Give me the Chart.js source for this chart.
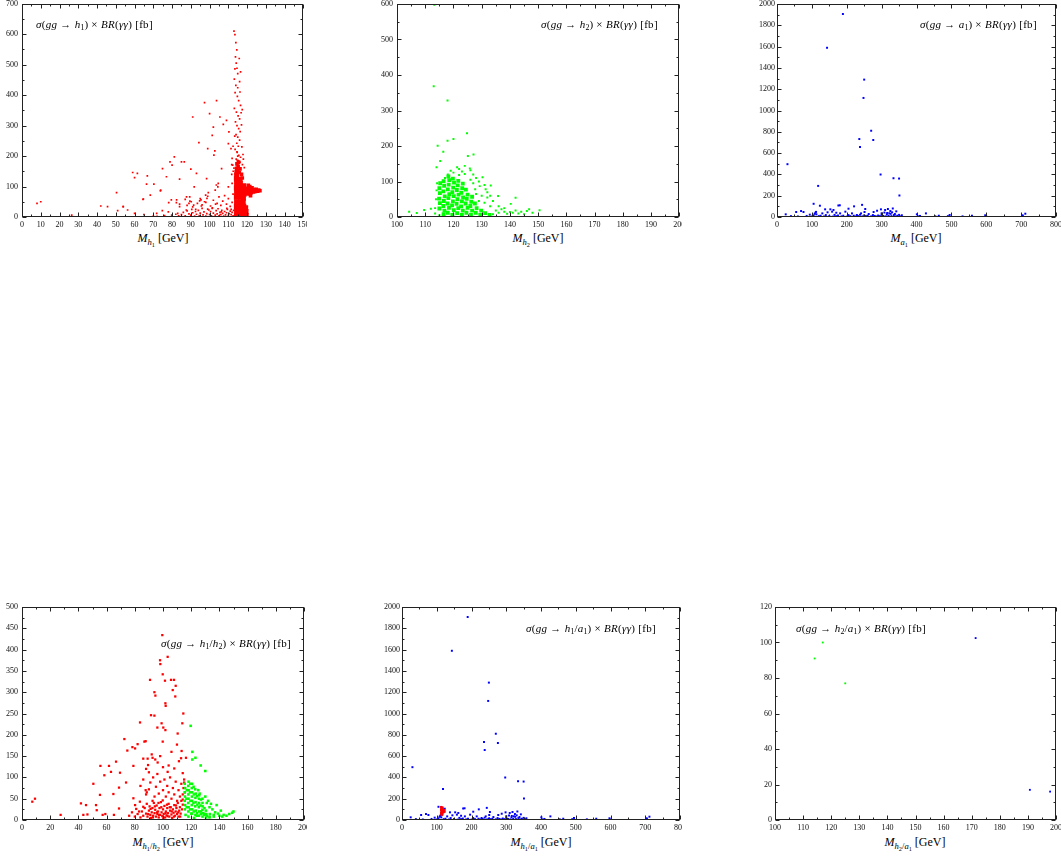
<!DOCTYPE html>
<html>
<head>
<meta charset="utf-8">
<title>gg -> h BR(gamma gamma) scans</title>
<script src="https://cdn.jsdelivr.net/npm/chart.js@4.4.1/dist/chart.umd.min.js"></script>
<style>
body { margin: 0; background: #fff; }
#page { position: relative; width: 1061px; height: 857px; overflow: hidden; font-family: "Liberation Serif", "DejaVu Serif", serif; color: #000; }
canvas { position: absolute; }
.txt { position: absolute; white-space: nowrap; line-height: 1; }
.ann { font-size: 11px; letter-spacing: 0.3px; }
.op { margin: 0 3px; }
.xt { font-size: 12px; transform: translateX(-50%); }
sub { font-size: 72%; vertical-align: -0.3em; line-height: 0; letter-spacing: 0; }
</style>
</head>
<body>
<div id="page">
  <canvas id="c1" width="307" height="231" style="left:0px;top:0px"></canvas>
  <canvas id="c2" width="307" height="231" style="left:375px;top:0px"></canvas>
  <canvas id="c3" width="306" height="231" style="left:755px;top:0px"></canvas>
  <canvas id="c4" width="307" height="234" style="left:0px;top:600px"></canvas>
  <canvas id="c5" width="307" height="234" style="left:375px;top:600px"></canvas>
  <canvas id="c6" width="306" height="234" style="left:755px;top:600px"></canvas>

  <div class="txt ann" style="left:36px;top:19px"><i>σ</i>(<i>gg</i><span class="op">→</span><i>h</i><sub>1</sub>)<span class="op">×</span><i>BR</i>(<i>γγ</i>) [fb]</div>
  <div class="txt ann" style="left:541px;top:19px"><i>σ</i>(<i>gg</i><span class="op">→</span><i>h</i><sub>2</sub>)<span class="op">×</span><i>BR</i>(<i>γγ</i>) [fb]</div>
  <div class="txt ann" style="left:920px;top:19px"><i>σ</i>(<i>gg</i><span class="op">→</span><i>a</i><sub>1</sub>)<span class="op">×</span><i>BR</i>(<i>γγ</i>) [fb]</div>
  <div class="txt ann" style="left:161px;top:638px"><i>σ</i>(<i>gg</i><span class="op">→</span><i>h</i><sub>1</sub>/<i>h</i><sub>2</sub>)<span class="op">×</span><i>BR</i>(<i>γγ</i>) [fb]</div>
  <div class="txt ann" style="left:526px;top:623px"><i>σ</i>(<i>gg</i><span class="op">→</span><i>h</i><sub>1</sub>/<i>a</i><sub>1</sub>)<span class="op">×</span><i>BR</i>(<i>γγ</i>) [fb]</div>
  <div class="txt ann" style="left:796px;top:623px"><i>σ</i>(<i>gg</i><span class="op">→</span><i>h</i><sub>2</sub>/<i>a</i><sub>1</sub>)<span class="op">×</span><i>BR</i>(<i>γγ</i>) [fb]</div>

  <div class="txt xt" style="left:163px;top:232px"><i>M</i><sub><i>h</i><sub>1</sub></sub> [GeV]</div>
  <div class="txt xt" style="left:538px;top:232px"><i>M</i><sub><i>h</i><sub>2</sub></sub> [GeV]</div>
  <div class="txt xt" style="left:916px;top:232px"><i>M</i><sub><i>a</i><sub>1</sub></sub> [GeV]</div>
  <div class="txt xt" style="left:163px;top:836px"><i>M</i><sub><i>h</i><sub>1</sub>/<i>h</i><sub>2</sub></sub> [GeV]</div>
  <div class="txt xt" style="left:541px;top:836px"><i>M</i><sub><i>h</i><sub>1</sub>/<i>a</i><sub>1</sub></sub> [GeV]</div>
  <div class="txt xt" style="left:915px;top:836px"><i>M</i><sub><i>h</i><sub>2</sub>/<i>a</i><sub>1</sub></sub> [GeV]</div>
</div>

<script>
"use strict";

// axis ranges: [min, max, step between labels]
const h1X = [0, 150, 10], h1Y = [0, 700, 100];
const h2X = [100, 200, 10], h2Y = [0, 600, 100];
const a1X = [0, 800, 100], a1Y = [0, 2000, 200];
const h1h2X = [0, 200, 20], h1h2Y = [0, 500, 50];
const h1a1X = [0, 800, 100], h1a1Y = [0, 2000, 200];
const h2a1X = [100, 200, 10], h2a1Y = [0, 120, 20];

// h1 panel: scattered points [mass, sigma x BR]
const h1Scatter = [[8,45],[10,50],[26.5,6],[42,36],[45.6,34],[50.4,80],[51,21],[54,34],[56.3,23],[60,12],
  [59,146],[61.5,143],[60,129],[64.7,59],[66.4,108],[66.8,135],[68.4,72],[70.3,108],[71.8,12],[74.8,21],
  [73.9,88],[74.9,159],[77,132],[78,17],[78.9,181],[80,170],[81.2,197],[79.8,6],[82.4,56],[83,12],
  [84,124],[85,181],[86.5,181],[87.7,66],[89,45],[90,157],[91,328],[91.8,99],[93,143],[94.3,244],
  [95.4,56],[97.3,375],[98.4,126],[99,224],[100,339],[97.9,72],[99.3,80],[101.4,268],[102,295],[103.7,382],
  [104.6,110],[105.5,328],[106.4,159],[107.3,304],[109,317],[110,241],[102.3,203],[102.8,217],[110.3,279],[111.4,224],
  [53.9,34],[64.5,58],[73.8,86],[78.2,47],[79.6,56],[82.3,47],[84,34],[87,58],[87.6,23],[89.4,66],
  [90.2,50],[91.5,39],[92.6,25],[94.7,53],[95.6,36],[97.3,50],[98.6,61],[99.6,23],[101.4,28],[103.2,42],
  [103.6,105],[104.4,99],[106.2,17],[109.2,28],[110,99],[111.5,25],
  [85,8],[86,15],[87,4],[88,20],[89,10],[90,6],[90.5,25],[91,14],[92,3],[92.5,18],[93,9],[94,22],[94.5,5],
  [95,13],[96,28],[96.5,7],[97,17],[98,3],[98.5,11],[99,26],[100,8],[100.5,18],[101,4],[101.5,30],[102,13],
  [103,6],[103.5,21],[104,10],[104.5,27],[105,4],[105.5,15],[106,8],[106.5,22],[107,12],[107.5,3],[108,18],
  [108.5,7],[109,14],[109.5,25],[110,5],[110.5,11],[111,19],[111.5,8],[112,15],[112.5,4],[112.8,22],
  [80,3],[82,9],[83.5,4],[76,5],[70,3],[65,8],[72,2],
  [84,42],[88,38],[89.5,52],[91,33],[93.5,45],[95,60],[96,40],[98,48],[99,68],[100.5,36],[102,55],[103,88],
  [104,45],[105,66],[106,38],[107,52],[108,70],[109,42],[110,60],[111,35],[112,48],[112.5,75],[112,110],[111.8,140],[112.3,170]];

// h1 panel: the narrow spike near 114 GeV
const h1Spike = [[113,610],[113.5,598],[114,572],[114.5,548],[113.8,525],[114.2,505],[113.5,486],[115,470],[116.5,476],
  [113.2,452],[114,432],[115,424],[116,444],[113.6,408],[114.8,396],[115.5,382],[116.5,366],[113.2,356],[114.3,344],
  [115.2,332],[116,322],[113.8,312],[114.6,300],[115.5,290],[116.3,280],[114.1,270],[115,262],[116,252],[114.5,242],
  [115.3,232],[113.6,222],[114.7,212],[115.6,202],[116.5,196],[114.2,190],[115.2,185],[116.2,180],[117.5,172],[118.5,162],
  [112.5,232],[112,192],[111.8,172],[117,302],[116.8,342],[117.4,352],[115.8,520],[114.6,488],[116.2,410],[113.4,265],
  [117.2,230],[117.8,205],[118,190],[113,160],[112.6,150],[114.8,186],[115,200],[114.6,214]];

// h1 panel: the solid core of the distribution
const h1Core = [[114.3,5],[114.4,20],[114.3,35],[114.4,50],[114.3,65],[114.4,80],[114.3,95],[114.4,110],[114.3,125],[114.4,138],
  [116.5,5],[116.4,20],[116.5,35],[116.4,50],[116.5,65],[116.4,80],[116.5,95],[116.4,110],[116.3,124],
  [118.6,5],[118.5,20],[118.2,35],[117.9,50],[118,62],[118.5,76],[118.6,90],[118.1,102],
  [119.5,5],[119.4,18],[119.2,30],[120,80],[120.2,92]];

// h1 panel: the short tail towards 127 GeV and the top of the core
const h1Tail = [[121,76],[121.2,84],[121,92],[121.4,100],[122.2,80],[122.4,88],[122.6,96],[123.4,82],[123.6,90],
  [124.4,84],[124.8,91],[125.6,85],[126.2,88],[126.8,86],[121.8,70],[120.6,104],
  [114.2,148],[115,152],[115.8,146],[114.4,160],[115.2,166],[114.6,174],[115.4,180],[116.2,158],[117,140],[117.4,128]];

// h2 panel
const h2Scatter = [[113.2,598],[113,368],[117.9,328],[114.4,201],[115.3,158],[116.4,184],[117.9,215],[120,220],[124.8,236],
  [125.1,172],[127.1,176],[142,54],[140.3,37],[150.5,19],[146.8,22],[104.3,15],[107,11],[109.6,20],[112,23],[113.5,25],
  [121.3,140],[124,144],[125.8,137],[130.3,112],[133.2,89],[135.8,59],[127.7,78],[129.3,87],[131.4,78],
  [114,140],[122,135],[123,128],[126,132],[128,110],[129,100],[131,90],[132,70],[133,60],[134,45],[133,30],
  [135,18],[136,12],[137,22],[138,15],[139,9],[140,14],[141,12],[142,18],[143,10],[144,15],[145,8],[146,17],[148,12],
  [130,60],[131,40],[129,45],[132,55],[127,95],[128,65],[126,105],[127,120],[118,120],[117,110],[119,130],[120,125],[122,118],[124,121],
  [113.8,50],[114,75],[114.2,95],[113.5,10],[115,5],[130,5],[134,8],[136,30],[138,25]];

// h2 panel: the dense cloud, columns staggered so it reads as a cloud
const h2Core = [[115,24],[115.2,39],[114.9,52],[115.2,67],[115,81],[115.3,95],
  [116.5,8],[116.8,18],[116.4,31],[116.6,45],[116.9,58],[116.4,72],[116.7,88],[116.5,101],
  [118,12],[118.4,26],[117.9,38],[118.2,53],[118.5,64],[118,78],[118.3,91],[118.5,104],[118.2,114],
  [119.6,6],[120.1,19],[119.5,33],[119.8,44],[120.1,59],[119.6,70],[119.9,83],[120.2,97],[119.8,108],
  [121.3,11],[121.7,25],[121.1,37],[121.4,50],[121.8,63],[121.2,76],[121.5,89],[121.7,102],
  [123,6],[123.3,18],[122.7,30],[123,44],[123.4,55],[122.8,68],[123.1,81],[123.3,94],
  [124.6,12],[125,26],[124.3,38],[124.7,51],[125,63],[124.4,77],
  [126.2,6],[126.6,18],[126,31],[126.3,43],[126.6,57],
  [127.9,12],[128.2,25],[127.6,38],
  [129.5,6],[129.8,18],[131.2,11],[132.8,6]];

// a1 panel (also reused for the blue points of the h1/a1 panel)
const a1Points = [[189,1906],[143.5,1589],[250,1290],[248,1118],[270,810],[276,723],[236,732],[238,657],[297,399],
  [334,364],[350,361],[351,202],[30,496],[118,292],[105,124],[123,106],[176,108],[180,110],[221,100],[244,114],
  [25,25],[55,47],[69,56],[76,47],[94,22],[110,40],[113,25],[130,34],[138,72],[145,44],[153,72],[158,50],[162,66],
  [181,34],[196,50],[205,78],[215,34],[229,19],[241,34],[253,75],[251,47],[263,28],[277,47],[287,59],[298,72],
  [310,66],[318,75],[325,56],[330,44],[342,53],[358,16],[401,25],[427,34],[464,12],[495,19],[532,6],[559,12],
  [597,16],[712,31],[704,16],[454,6],[40,8],[60,5],[85,10],[100,5],[105,15],[120,8],[125,12],[135,5],[140,18],
  [150,10],[160,4],[165,20],[170,8],[175,14],[185,6],[190,12],[200,4],[205,18],[210,8],[220,12],[225,5],[232,10],
  [238,22],[245,6],[250,15],[255,8],[260,12],[270,6],[275,18],[280,10],[285,5],[290,14],[295,8],[300,20],[305,10],
  [312,6],[315,25],[320,12],[322,35],[328,8],[335,18],[338,28],[340,6],[345,12],[350,20],[355,6],[405,6],[410,10],
  [490,8],[600,4],[705,8],[170,40],[108,30],[112,48],[300,35],[308,42],[316,38],[326,30],[332,80]];

// h1/h2 panel
const h1h2Red = [[99.5,434],[103.3,383],[97.9,375],[98.1,366],[99.8,342],[90.8,329],[101.4,327],[105.7,329],[107.8,329],
  [109,315],[106.9,305],[93.9,300],[94.6,292],[101.7,274],[101.9,268],[108.7,290],[91.5,246],[93.9,245],[83.7,229],
  [99,227],[100.2,217],[101.7,211],[96,217],[87.7,185],[72.6,190],[86.8,184],[110.4,203],[113.7,227],[114.4,250],
  [113.2,162],[116.3,146],[109.9,177],[78.3,171],[80.2,168],[74.7,163],[82,178],[99.8,184],[61.7,127],[63.1,113],
  [55.6,127],[66.7,137],[58.4,105],[69.5,111],[86,144],[89.1,144],[92.6,146],[94.5,142],[96.2,135],[79,127],
  [89.4,129],[100,124],[103.3,113],[92,154],[108,121],[111.3,138],[112.8,145],[50.6,85],[73.8,88],[68.8,76],
  [64.8,61],[55.3,59],[41.8,39],[45.4,35],[52.5,35],[53,23],[43.5,12],[46.4,13],[27.4,12],[7.3,43],[9.2,50],
  [57.2,12],[59.1,14],[65.2,12],[68.8,27],[79,51],[80.2,35],[83.6,43],[86,31],[87.7,70],[88.5,65],[92.6,45],
  [84,80],[86,95],[88,60],[90,72],[91,88],[93,100],[94,55],[95,78],[97,62],[98,90],[100,70],[101,95],[102,55],
  [103,80],[104,65],[105,100],[106,50],[107,75],[108,60],[109,90],[110,45],[111,70],[112,55],[96,108],[90,112],
  [104,128],[98,150],[106,160],[88,120],[114,110],[115,95],[113,85],
  [85,20],[86,10],[87,28],[88,15],[88.5,38],[89,8],[90,22],[90.5,32],[91,12],[91.5,5],[92,18],[92.5,28],[93,10],
  [93.5,40],[94,16],[94.5,24],[95,8],[95.5,34],[96,14],[96.5,20],[97,6],[97.5,28],[98,12],[98.5,42],[99,18],
  [99.5,9],[100,25],[100.5,14],[101,33],[101.5,6],[102,20],[102.5,11],[103,28],[103.5,16],[104,38],[104.5,8],
  [105,22],[105.5,30],[106,13],[106.5,5],[107,25],[107.5,17],[108,35],[108.5,10],[109,20],[109.5,28],[110,14],
  [110.5,40],[111,8],[111.5,22],[112,30],[112.5,15],[113,45],[113.5,25],[114,36],[76,10],[78,18],[80,8],[81,26],
  [82,14],[83,20],[84,6],[114,60],[114.5,75],[115,88],[114,48],[115.5,65],
  [89.5,14],[91.2,26],[92.8,6],[94.2,32],[95.8,18],[97.2,12],[98.8,30],[100.2,4],[101.8,16],[103.2,9],[104.8,30],
  [106.2,20],[107.8,8],[109.2,34],[110.8,18],[112.2,8],[96.8,40],[102.8,36],[99.8,46]];

const h1h2Green = [[119.6,221],[120.8,160],[123,146],[126.7,128],[130,115],[120.8,142],
  [131,40],[133,30],[135,25],[137,18],[139,15],[141,22],[143,12],[145,10],[147,14],[149,17],[150,20],[138,35],
  [142,8],[128,50],[130,55],[132,45],[134,38],[136,12],[140,10],[126,62],[125,70],[127,20],[129,15],[131,10],
  [133,8],[124,10],[122,5],[118,8],[120,15],[116,12],
  [115.5,25],[115.7,35],[115.4,45],[115.6,55],[115.5,65],[115.7,75],[115.4,85],
  [118,20],[118.2,30],[117.9,40],[118.1,50],[118,60],[118.2,70],[117.9,80],[118.1,90],
  [120.5,15],[120.7,25],[120.4,35],[120.6,45],[120.5,55],[120.7,65],[120.4,75],[120.6,85],
  [123,12],[123.2,22],[122.9,32],[123.1,42],[123,52],[123.2,62],[122.9,72],
  [125.5,10],[125.7,20],[125.4,30],[125.6,40],[125.5,50],[125.7,58],
  [128,8],[128.2,16],[127.9,24],[128.1,32],[128,40],
  [130.5,6],[130.7,14],[130.4,22],[133,6],[133.2,14],[136,8],
  [116.8,30],[116.6,50],[116.9,70],[119.2,25],[119.4,45],[119.1,65],[119.3,85],[121.8,20],[121.6,40],[121.9,60],
  [121.7,78],[124.2,16],[124.4,36],[124.1,56],[126.8,14],[126.6,34],[126.9,48],[129.2,12],[129.4,28]];

// h1/a1 panel: the red h1 cluster on top of the a1 points
const h1a1Red = [[113,120],[114,110],[115,100],[116,92],[117,85],[118,80],[113,95],[114,80],[115,70],[116,62],
  [114,55],[115,50],[119,75],[118,95],[117,105],[116,115],[113,65],[120,85],[121,90],[122,80]];

// h2/a1 panel
const h2a1Green = [[114.1,91],[117,100],[125,77]];
const h2a1Blue = [[171.4,102.5],[190.7,17],[197.9,16]];

const RED = '#ff0000';
const GREEN = '#00ff00';
const BLUE = '#0000ff';

// draws the box and the inward tick marks on all four sides
const framePlugin = {
  id: 'frame',
  afterDraw(chart) {
    const ctx = chart.ctx;
    const area = chart.chartArea;
    const xs = chart.scales.x;
    const ys = chart.scales.y;
    const l = Math.round(area.left) + 0.5;
    const r = Math.round(area.right) - 0.5;
    const t = Math.round(area.top) + 0.5;
    const b = Math.round(area.bottom) - 0.5;

    ctx.save();
    ctx.strokeStyle = '#222';
    ctx.lineWidth = 1;
    ctx.strokeRect(l, t, r - l, b - t);
    ctx.beginPath();

    let stepX = xs.options.ticks.stepSize / 2;
    let n = 0;
    for (let v = xs.min; v <= xs.max + 1e-9; v += stepX, n++) {
      const px = Math.round(xs.getPixelForValue(v)) + 0.5;
      const len = n % 2 === 0 ? 4 : 2;
      ctx.moveTo(px, b); ctx.lineTo(px, b - len);
      ctx.moveTo(px, t); ctx.lineTo(px, t + len);
    }
    let stepY = ys.options.ticks.stepSize / 2;
    n = 0;
    for (let v = ys.min; v <= ys.max + 1e-9; v += stepY, n++) {
      const py = Math.round(ys.getPixelForValue(v)) + 0.5;
      const len = n % 2 === 0 ? 4 : 2;
      ctx.moveTo(l, py); ctx.lineTo(l + len, py);
      ctx.moveTo(r, py); ctx.lineTo(r - len, py);
    }
    ctx.stroke();
    ctx.restore();
  }
};

function makePanel(p) {
  const tickFont = { family: 'Liberation Serif', size: 8 };

  new Chart(document.getElementById(p.id), {
    type: 'scatter',
    data: {
      datasets: p.sets.map(s => ({
        data: s.data.map(pt => ({ x: pt[0], y: pt[1] })),
        pointStyle: 'rect',
        pointRadius: s.r,
        pointHoverRadius: s.r,
        borderWidth: 0,
        backgroundColor: s.color
      }))
    },
    options: {
      responsive: false,
      animation: false,
      devicePixelRatio: 1,
      events: [],
      layout: { padding: { top: p.padTop, right: p.padRight, left: 0, bottom: 0 } },
      plugins: { legend: { display: false }, tooltip: { enabled: false } },
      scales: {
        x: {
          type: 'linear', min: p.x[0], max: p.x[1],
          grid: { display: false, drawTicks: false },
          border: { display: false },
          ticks: { stepSize: p.x[2], autoSkip: false, maxRotation: 0, padding: 3, color: '#111', font: tickFont,
                   callback: v => String(v) },
          afterFit: s => { s.height = 14; s.paddingLeft = 0; s.paddingRight = 0; }
        },
        y: {
          type: 'linear', min: p.y[0], max: p.y[1],
          grid: { display: false, drawTicks: false },
          border: { display: false },
          ticks: { stepSize: p.y[2], autoSkip: false, padding: p.yPad, color: '#111', font: tickFont,
                   callback: v => String(v) },
          afterFit: s => { s.width = p.yW; s.paddingTop = 0; s.paddingBottom = 0; }
        }
      }
    },
    plugins: [framePlugin]
  });
}

const panels = [
  { id: 'c1', x: h1X, y: h1Y, yW: 22, yPad: 4, padTop: 3, padRight: 3,
    sets: [{ data: h1Spike, color: RED, r: 1.2 }, { data: h1Scatter, color: RED, r: 1.2 },
           { data: h1Tail, color: RED, r: 2.6 }, { data: h1Core, color: RED, r: 3.6 }] },
  { id: 'c2', x: h2X, y: h2Y, yW: 22, yPad: 4, padTop: 4, padRight: 2,
    sets: [{ data: h2Scatter, color: GREEN, r: 1.4 }, { data: h2Core, color: GREEN, r: 2.7 }] },
  { id: 'c3', x: a1X, y: a1Y, yW: 22, yPad: 2, padTop: 4, padRight: 5,
    sets: [{ data: a1Points, color: BLUE, r: 1.4 }] },
  { id: 'c4', x: h1h2X, y: h1h2Y, yW: 22, yPad: 4, padTop: 7, padRight: 3,
    sets: [{ data: h1h2Green, color: GREEN, r: 1.8 }, { data: h1h2Red, color: RED, r: 1.6 }] },
  { id: 'c5', x: h1a1X, y: h1a1Y, yW: 27, yPad: 2, padTop: 7, padRight: 2,
    sets: [{ data: h1a1Red, color: RED, r: 1.8 }, { data: a1Points, color: BLUE, r: 1.4 }] },
  { id: 'c6', x: h2a1X, y: h2a1Y, yW: 20, yPad: 3, padTop: 7, padRight: 5,
    sets: [{ data: h2a1Green, color: GREEN, r: 1.3 }, { data: h2a1Blue, color: BLUE, r: 1.3 }] }
];

panels.forEach(makePanel);
</script>
</body>
</html>
